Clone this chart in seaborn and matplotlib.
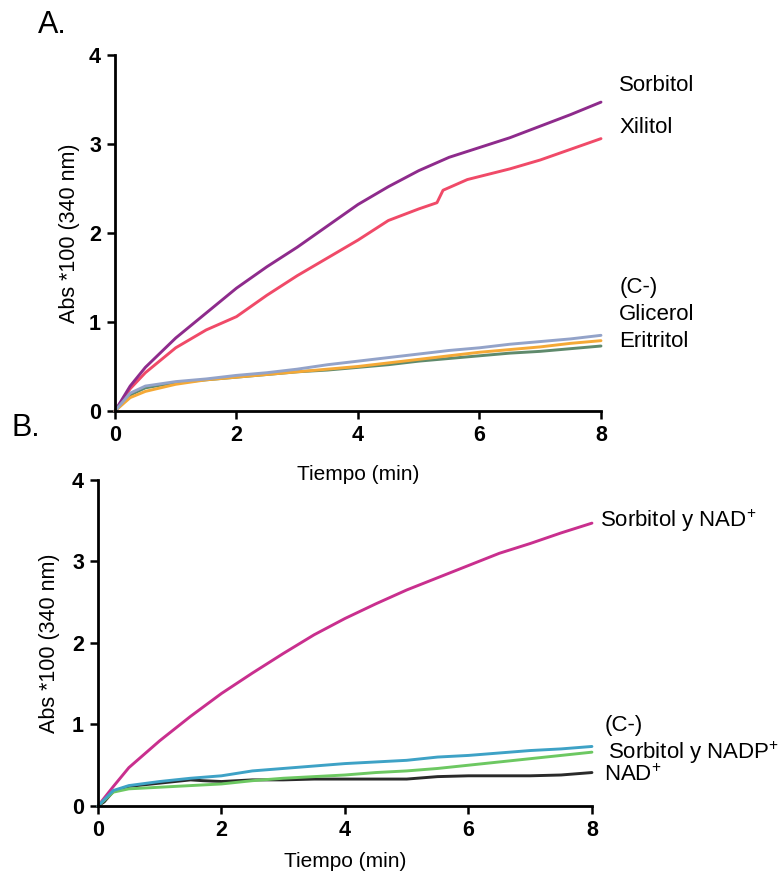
import pandas as pd
import matplotlib.pyplot as plt
import seaborn as sns

# Panel A: time (min) and Abs*100
t = [0, 0.25, 0.5, 1, 1.5, 2, 2.5, 3, 3.5, 4, 4.5, 5, 5.5, 6, 6.5, 7, 7.5, 8]
sorbitol_a = [0, 0.28, 0.49, 0.82, 1.1, 1.38, 1.62, 1.84, 2.08, 2.32, 2.52, 2.7,
              2.85, 2.96, 3.07, 3.2, 3.33, 3.47]
t_xilitol = [0, 0.25, 0.5, 1, 1.5, 2, 2.5, 3, 3.5, 4, 4.5, 5, 5.3, 5.4, 5.8,
             6.5, 7, 7.5, 8]
xilitol = [0, 0.25, 0.43, 0.71, 0.91, 1.06, 1.3, 1.52, 1.72, 1.92, 2.14, 2.27,
           2.34, 2.48, 2.6, 2.72, 2.82, 2.94, 3.06]
control_a = [0, 0.2, 0.28, 0.33, 0.36, 0.4, 0.43, 0.47, 0.52, 0.56, 0.6, 0.64,
             0.68, 0.71, 0.75, 0.78, 0.81, 0.85]
glicerol = [0, 0.15, 0.22, 0.3, 0.35, 0.38, 0.41, 0.44, 0.47, 0.5, 0.54, 0.58,
            0.62, 0.66, 0.69, 0.72, 0.76, 0.79]
eritritol = [0, 0.18, 0.26, 0.32, 0.35, 0.38, 0.41, 0.44, 0.46, 0.49, 0.52,
             0.56, 0.59, 0.62, 0.65, 0.67, 0.7, 0.73]

# Panel B
sorbitol_nad = [0, 0.24, 0.47, 0.8, 1.1, 1.38, 1.63, 1.87, 2.1, 2.3, 2.48,
                2.65, 2.8, 2.95, 3.1, 3.22, 3.35, 3.47]
control_b = [0, 0.19, 0.25, 0.3, 0.34, 0.37, 0.43, 0.46, 0.49, 0.52, 0.54,
             0.56, 0.6, 0.62, 0.65, 0.68, 0.7, 0.73]
sorbitol_nadp = [0, 0.17, 0.21, 0.23, 0.25, 0.27, 0.31, 0.34, 0.36, 0.38,
                 0.41, 0.43, 0.46, 0.5, 0.54, 0.58, 0.62, 0.66]
t_nad = [0, 0.1, 0.25, 0.5, 1, 1.5, 1.7, 2, 2.5, 3, 3.5, 4, 4.5, 5, 5.5, 6,
         6.5, 7, 7.5, 8]
nad = [0, 0.05, 0.18, 0.24, 0.28, 0.32, 0.31, 0.3, 0.32, 0.32, 0.33, 0.33,
       0.33, 0.33, 0.36, 0.37, 0.37, 0.37, 0.38, 0.41]

colors_a = {"Xilitol": "#f04a68", "Sorbitol": "#8e2b8c", "Eritritol": "#5f8a6c",
            "Glicerol": "#f5a936", "(C-)": "#93a3c9"}
colors_b = {"Sorbitol y NAD+": "#c92f8e", "(C-)": "#3ea2c6",
            "Sorbitol y NADP+": "#6dc862", "NAD+": "#2a2a2a"}


def long_form(series):
    frames = []
    for name, (x, y) in series.items():
        frames.append(pd.DataFrame({"Tiempo": x, "Abs": y, "Serie": name}))
    return pd.concat(frames, ignore_index=True)


df_a = long_form({
    "Xilitol": (t_xilitol, xilitol),
    "Sorbitol": (t, sorbitol_a),
    "Eritritol": (t, eritritol),
    "Glicerol": (t, glicerol),
    "(C-)": (t, control_a),
})
df_b = long_form({
    "Sorbitol y NAD+": (t, sorbitol_nad),
    "NAD+": (t_nad, nad),
    "Sorbitol y NADP+": (t, sorbitol_nadp),
    "(C-)": (t, control_b),
})

sns.set_style("ticks")
plt.rcParams["font.family"] = ["Liberation Sans", "DejaVu Sans"]
plt.rcParams["mathtext.fontset"] = "custom"
plt.rcParams["mathtext.rm"] = "Liberation Sans"
plt.rcParams["mathtext.default"] = "regular"
for key in ("text.color", "axes.labelcolor", "xtick.color", "ytick.color",
            "axes.edgecolor"):
    plt.rcParams[key] = "black"

fig = plt.figure(figsize=(7.8, 8.75), dpi=100)
ax_a = fig.add_axes([0.1474, 0.5303, 0.6231, 0.4069])
ax_b = fig.add_axes([0.1256, 0.0789, 0.6333, 0.3726])

sns.lineplot(data=df_a, x="Tiempo", y="Abs", hue="Serie", palette=colors_a,
             linewidth=2.1, legend=False, ax=ax_a, sort=False)
sns.lineplot(data=df_b, x="Tiempo", y="Abs", hue="Serie", palette=colors_b,
             linewidth=2.1, legend=False, ax=ax_b, sort=False)

for ax in (ax_a, ax_b):
    ax.patch.set_visible(False)
    ax.set_xlim(0, 8)
    ax.set_ylim(0, 4)
    ax.set_xticks([0, 2, 4, 6, 8])
    ax.set_yticks([0, 1, 2, 3, 4])
    sns.despine(ax=ax)
    for side in ("left", "bottom"):
        ax.spines[side].set_linewidth(2)
    ax.tick_params(width=1.8, length=6, labelsize=15.5, pad=4)
    for lab in ax.get_xticklabels() + ax.get_yticklabels():
        lab.set_fontweight("bold")
    for line in ax.lines:
        line.set_clip_on(False)
    ax.set_xlabel("Tiempo (min)", fontsize=15)
    ax.set_ylabel("Abs *100 (340 nm)", fontsize=15.5)

ax_a.xaxis.set_label_coords(0.5, -0.152)
ax_b.xaxis.set_label_coords(0.5, -0.141)
ax_a.yaxis.set_label_coords(-0.072, 0.5)
ax_b.yaxis.set_label_coords(-0.077, 0.5)

labels_a = [("Sorbitol", 3.66), ("Xilitol", 3.18), ("(C-)", 1.39),
            ("Glicerol", 1.08), ("Eritritol", 0.78)]
for text, y in labels_a:
    ax_a.text(8.3, y, text, fontsize=16, va="center", ha="left")

labels_b = [("Sorbitol y NAD$^{+}$", 8.13, 3.5), ("(C-)", 8.21, 0.99),
            ("Sorbitol y NADP$^{+}$", 8.26, 0.65), ("NAD$^{+}$", 8.19, 0.38)]
for text, x, y in labels_b:
    ax_b.text(x, y, text, fontsize=16, va="center", ha="left")

fig.text(38 / 780, 1 - 25 / 875, "A.", fontsize=22, va="center", ha="left")
fig.text(12 / 780, 1 - 428 / 875, "B.", fontsize=22, va="center", ha="left")

fig.savefig("out.png", dpi=100)
